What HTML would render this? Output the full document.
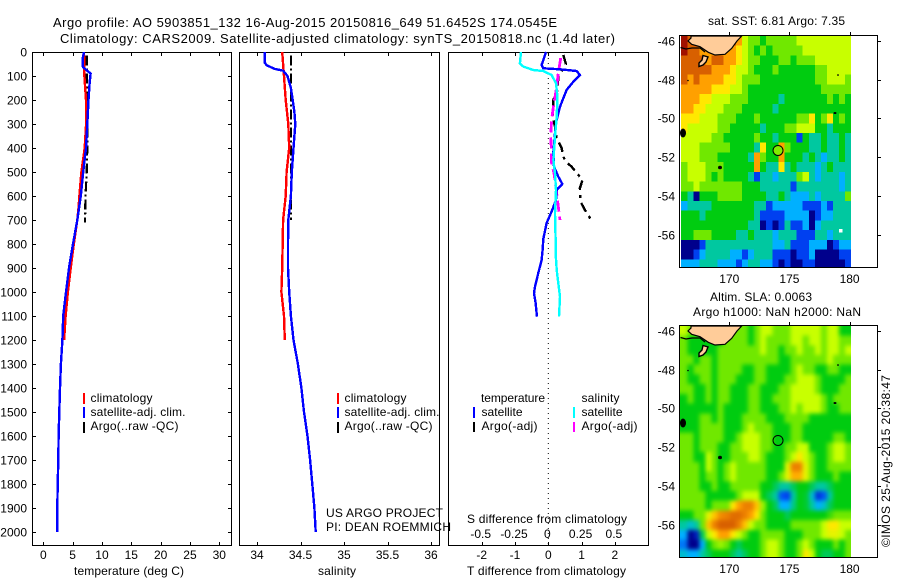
<!DOCTYPE html>
<html>
<head>
<meta charset="utf-8">
<title>Argo profile</title>
<style>
html,body{margin:0;padding:0;background:#fff;}
svg{display:block;font-family:"Liberation Sans",sans-serif;font-size:12px;fill:#000;}
</style>
</head>
<body>
<svg id="fig" xmlns="http://www.w3.org/2000/svg" width="900" height="580" viewBox="0 0 900 580">
<defs>
<clipPath id="clipMap1"><rect x="680" y="36" width="171" height="231"/></clipPath>
<clipPath id="clipMap2"><rect x="680" y="326" width="171" height="231"/></clipPath>
<filter id="smooth" x="-5%" y="-5%" width="110%" height="110%" color-interpolation-filters="sRGB">
<feGaussianBlur stdDeviation="2"/>
<feComponentTransfer><feFuncA type="linear" slope="60"/></feComponentTransfer>
</filter>
</defs>
<rect x="0" y="0" width="900" height="580" fill="#fff"/>
<text x="53" y="27" font-size="13" textLength="504" lengthAdjust="spacing">Argo profile: AO 5903851_132 16-Aug-2015 20150816_649 51.6452S 174.0545E</text>
<text x="60" y="43" font-size="13" textLength="555" lengthAdjust="spacing">Climatology: CARS2009. Satellite-adjusted climatology: synTS_20150818.nc (1.4d later)</text>

<g id="map1"></g>
<g id="map2"></g>
<g id="p1"></g>
<g id="p2"></g>
<g id="p3"></g>

<text x="74" y="575" textLength="110" lengthAdjust="spacing">temperature (deg C)</text>
<text x="318" y="575" textLength="38" lengthAdjust="spacing">salinity</text>
<text x="467" y="575" textLength="159" lengthAdjust="spacing">T difference from climatology</text>
<text x="467" y="523" textLength="160" lengthAdjust="spacing">S difference from climatology</text>

<g>
<rect x="83" y="393" width="2" height="11" fill="#f00"/>
<text x="90.5" y="402" textLength="62" lengthAdjust="spacing">climatology</text>
<rect x="83" y="407" width="2" height="11" fill="#00f"/>
<text x="90.5" y="416" textLength="95" lengthAdjust="spacing">satellite-adj. clim.</text>
<rect x="83" y="422" width="2" height="11" fill="#000"/>
<text x="90.5" y="430" textLength="88" lengthAdjust="spacing">Argo(..raw -QC)</text>
</g>
<g>
<rect x="337" y="393" width="2" height="11" fill="#f00"/>
<text x="344.5" y="402" textLength="62" lengthAdjust="spacing">climatology</text>
<rect x="337" y="407" width="2" height="11" fill="#00f"/>
<text x="344.5" y="416" textLength="95" lengthAdjust="spacing">satellite-adj. clim.</text>
<rect x="337" y="422" width="2" height="11" fill="#000"/>
<text x="344.5" y="430" textLength="88" lengthAdjust="spacing">Argo(..raw -QC)</text>
</g>
<text x="326" y="517" textLength="117" lengthAdjust="spacing">US ARGO PROJECT</text>
<text x="326" y="531" textLength="125" lengthAdjust="spacing">PI: DEAN ROEMMICH</text>
<g>
<text x="481" y="402" textLength="64" lengthAdjust="spacing">temperature</text>
<rect x="473" y="407" width="2" height="11" fill="#00f"/>
<text x="481.5" y="416" textLength="41" lengthAdjust="spacing">satellite</text>
<rect x="473" y="422" width="2" height="10" fill="#000"/>
<text x="481.5" y="430" textLength="56" lengthAdjust="spacing">Argo(-adj)</text>
<text x="581.5" y="402" textLength="38" lengthAdjust="spacing">salinity</text>
<rect x="573" y="407" width="2" height="11" fill="#0ff"/>
<text x="581.5" y="416" textLength="41" lengthAdjust="spacing">satellite</text>
<rect x="573" y="422" width="2" height="10" fill="#f0f"/>
<text x="581.5" y="430" textLength="56" lengthAdjust="spacing">Argo(-adj)</text>
</g>

<text x="708" y="25" textLength="137" lengthAdjust="spacing">sat. SST: 6.81  Argo: 7.35</text>
<text x="710" y="301" textLength="102" lengthAdjust="spacing">Altim. SLA: 0.0063</text>
<text x="693" y="316" textLength="168" lengthAdjust="spacing">Argo h1000: NaN h2000: NaN</text>
<text transform="translate(890,547) rotate(-90)" textLength="172" lengthAdjust="spacing">©IMOS 25-Aug-2015 20:38:47</text>
</svg>

<script>
// ---------- Axis ticks ----------
const depthTicks = [0,100,200,300,400,500,600,700,800,900,1000,1100,1200,1300,1400,1500,1600,1700,1800,1900,2000];
const tempTicks = [0,5,10,15,20,25,30];
const salTicks = [34,34.5,35,35.5,36];
const salTickLabels = ['34','34.5','35','35.5','36'];
const tDiffTicks = [-2,-1,0,1,2];
const tDiffLabels = ['-2','-1','0','1','2'];
const sDiffTicks = [-0.5,-0.25,0,0.25,0.5];
const sDiffLabels = ['-0.5','-0.25','0','0.25','0.5'];
const lonTicks = [170,175,180];
const latTicks = [46,48,50,52,54,56];

// ---------- Temperature profiles ----------
const climTempDepth = [0,100,200,300,400,500,600,650,700,800,900,1000,1100,1200];
const climTemp = [6.94,7.0,7.27,7.3,7.05,6.5,6.15,6.0,5.8,5.2,4.67,4.2,3.8,3.55];
const satTempDepth = [0,30,60,70,90,130,200,300,400,500,600,700,800,900,1000,1100,1200,1300,1400,1500,1600,1700,1800,1900,2000];
const satTemp = [6.94,6.7,6.7,7.1,8.07,7.9,7.7,7.5,7.27,6.8,6.4,5.8,5.06,4.38,3.87,3.4,3.25,3.0,2.85,2.73,2.6,2.56,2.45,2.39,2.38];
const argoTempDepth = [15,100,200,300,400,500,600,710];
const argoTemp = [7.4,7.42,7.42,7.5,7.5,7.4,7.2,7.1];

// ---------- Salinity profiles ----------
const climSalDepth = [0,100,200,300,400,500,600,700,900,1000,1100,1200];
const climSal = [34.29,34.31,34.33,34.36,34.37,34.34,34.33,34.30,34.29,34.28,34.31,34.32];
const satSalDepth = [0,45,55,70,78,100,150,200,250,300,400,500,600,700,800,900,1000,1100,1200,1300,1400,1500,1600,1700,1800,1900,2000];
const satSal = [34.09,34.09,34.11,34.2,34.3,34.35,34.39,34.41,34.43,34.44,34.42,34.40,34.39,34.36,34.356,34.356,34.37,34.39,34.42,34.47,34.51,34.54,34.58,34.61,34.636,34.66,34.675];
const argoSalDepth = [15,200,400,700];
const argoSal = [34.39,34.39,34.39,34.39];

// ---------- Differences from climatology ----------
const satTDiffDepth = [0,54,68,72,79,96,124,158,193,228,283,338,421,478,519,550,575,617,665,713,779,825,867,921,978,1005,1046,1103];
const satTDiff = [-0.07,-0.2,-0.15,0.35,0.85,0.95,0.75,0.55,0.45,0.35,0.25,0.2,0.15,0.17,0.3,0.42,0.25,0.23,0.1,-0.05,-0.15,-0.17,-0.2,-0.3,-0.4,-0.43,-0.38,-0.34];
const satSDiffDepth = [0,47,61,75,79,96,130,186,269,353,450,505,575,672,779,838,908,963,1019,1103];
const satSDiff = [-0.205,-0.213,-0.188,-0.113,-0.038,0.025,0.058,0.068,0.063,0.05,0.038,0.05,0.058,0.05,0.055,0.055,0.063,0.075,0.088,0.08];
const argoSDiffDepth = [25,88,145,228,283,353,421,463,505,588,645,700];
const argoSDiff = [0.093,0.075,0.063,0.038,0.025,0.018,0.025,0.025,0.043,0.063,0.075,0.088];
const argoTDiffDepth = [12,50,103,158,200,269,311,358,400,436,457,478,512,533,567,624,658,707];
const argoTDiff = [0.45,0.53,0.3,0.28,0.15,0.13,0.2,0.25,0.4,0.45,0.53,0.7,0.9,1.03,0.95,0.97,1.1,1.32];

// ---------- Map grids: colour-level values, one row per 0.5 deg latitude from 46S ----------
const mapLats = [46,46.5,47,47.5,48,48.5,49,49.5,50,50.5,51,51.5,52,52.5,53,53.5,54,54.5,55,55.5,56,56.5,57,57.5];
const sstRows = [
[10,9,9,9,9,9,9,9,9,8,6,5,5,4,5,5,5,5,5,6,6,6,6,6,6,6,6,6],
[10,9,9,8,8,8,8,8,8,7,6,5,4,5,4,5,5,5,5,5,6,6,6,6,6,6,6,6],
[9,9,9,9,8,9,9,8,8,7,6,5,5,4,4,4,5,5,4,5,5,5,6,6,6,6,6,6],
[9,9,9,9,9,8,8,8,7,6,6,5,4,4,4,5,4,4,4,4,4,4,5,5,6,6,6,6],
[9,8,9,8,8,8,8,7,7,6,5,5,5,4,4,4,4,4,4,4,4,4,5,5,6,6,6,5],
[8,8,8,8,8,7,7,7,6,6,5,4,4,4,4,4,4,4,4,4,4,4,4,5,5,5,5,5],
[8,8,8,7,7,6,6,6,5,5,5,4,4,4,4,4,3,4,4,4,4,4,4,4,5,4,5,4],
[8,8,7,7,6,6,6,5,5,5,4,4,4,4,4,3,4,4,4,4,4,4,4,4,4,4,4,4],
[7,7,7,6,6,6,5,5,5,4,4,4,5,4,4,4,4,4,4,5,5,7,4,5,7,4,5,4],
[7,6,6,6,6,6,5,5,4,4,4,4,4,3,4,4,4,5,5,6,6,6,4,4,3,4,4,4],
[6,6,6,6,6,5,5,4,4,4,4,4,5,4,4,3,4,4,4,1,4,3,3,4,3,3,4,3],
[6,6,6,5,5,5,5,5,4,4,4,4,3,7,4,4,8,5,4,4,4,3,3,4,3,3,4,3],
[6,6,6,5,5,5,4,4,4,4,4,3,8,5,4,4,8,4,4,4,3,4,3,2,3,3,4,3],
[5,6,6,6,5,5,5,4,4,4,4,4,8,4,3,3,7,3,4,3,3,3,2,3,4,3,3,3],
[5,6,6,6,5,4,5,4,4,4,4,3,1,3,3,2,3,3,3,5,6,3,2,3,3,3,2,3],
[5,5,6,5,5,5,5,5,5,5,4,4,4,3,3,3,3,3,1,3,3,3,3,3,3,3,2,3],
[4,3,0,4,4,4,5,5,5,5,4,4,4,4,3,3,4,3,2,2,2,3,2,3,3,3,3,5],
[2,3,3,3,3,4,4,4,4,4,4,4,3,3,1,2,2,2,2,2,1,1,1,2,1,3,3,3],
[4,4,4,3,4,4,4,4,4,4,4,4,3,1,1,1,1,2,2,2,2,0,1,2,2,3,3,3],
[4,4,4,4,4,4,4,4,4,4,4,3,3,0,1,0,1,3,1,1,2,0,2,3,3,3,3,3],
[4,4,5,5,5,4,4,4,4,3,3,4,3,3,3,2,3,3,3,1,1,1,3,3,2,3,3,3],
[0,0,0,1,3,3,3,3,3,3,3,3,3,3,3,2,2,3,1,1,1,2,2,2,0,1,2,2],
[0,0,1,2,3,3,3,3,2,2,1,2,3,3,3,1,1,1,0,1,1,2,0,0,0,0,1,1],
[2,2,2,3,3,3,2,2,2,1,2,3,3,2,2,1,0,1,0,0,1,1,0,0,0,0,0,1]
];
const slaRows = [
[6,5,5,5,5,5,5,5,5,5,5,4,5,6,6,5,5,5,6,6,6,6,6,5,6,6,4,4],
[5,4,4,4,4,4,4,5,5,5,5,4,5,6,5,5,5,5,6,6,5,6,6,5,6,6,5,5],
[5,4,4,4,4,4,5,5,5,5,5,5,5,6,5,5,4,5,5,6,5,5,6,5,6,6,5,6],
[5,5,4,5,5,4,5,5,5,5,5,5,5,5,5,5,4,4,5,5,5,5,5,5,6,5,5,5],
[5,4,5,5,5,4,5,5,5,5,4,4,5,5,4,4,4,4,5,6,5,5,4,4,5,5,4,4],
[5,4,4,5,5,4,5,5,5,4,4,4,5,5,4,4,4,5,5,6,6,6,5,4,4,4,4,5],
[5,5,4,4,5,4,5,5,4,4,4,5,5,4,4,4,5,5,6,6,6,6,5,4,4,4,5,5],
[4,5,4,4,5,4,5,5,4,4,4,5,5,4,4,5,5,5,6,6,6,6,6,5,4,5,5,5],
[4,4,4,4,4,4,5,4,4,4,4,5,5,4,4,4,5,5,6,5,6,6,6,5,4,4,5,5],
[4,4,4,5,5,4,5,4,4,4,5,5,5,5,4,4,4,5,5,5,5,4,4,4,4,4,4,4],
[4,4,4,5,5,5,5,4,4,4,5,6,5,5,5,4,4,4,5,5,4,4,4,4,4,4,4,4],
[5,5,4,5,5,5,5,4,4,5,6,6,6,5,5,4,4,4,5,5,4,4,4,4,4,5,5,4],
[5,5,4,5,5,5,4,4,5,5,6,6,6,5,5,4,4,5,5,6,6,4,4,4,5,6,6,5],
[5,5,4,4,6,5,4,4,5,5,5,6,6,5,4,4,4,5,6,7,6,5,4,4,5,6,6,5],
[5,5,5,4,6,5,4,5,6,5,5,5,5,5,4,4,4,6.5,8.5,8.5,6.5,5,4,4,5,5,5,5],
[5,5,5,4,5,5,4,5,6,5,5,5,5,5,4,4,5,6.5,7.8,7.8,6.5,5,4,4,4,5,4,4],
[5,5,5,4,4,5,4,4,5,5,5,5,5,4,4,3.5,3,3,3.5,4,4,3.5,3,3,3.5,4,4,4],
[5,5,5,5,4,4,4,4,4,5,6,6,6,4,3.5,3,1.2,1,3,4,3.8,2.5,0.8,1.2,3,4,4,4],
[5,5,5,5,4,5,5,5,7,8,8.5,8.5,7.5,5.5,4,3.5,2,2,3.2,4,3.8,3,2,2.5,3.5,4,4,4],
[4,4,5,5,6.5,7.5,8.3,8.5,8.8,8.8,8.5,8,7,5,4,4,4,3.5,4,4,4,4,4,4,4.5,5,5,5],
[3,2.5,3,5,7.5,8.5,9,9,9,8.5,7.5,6,5,5,4,4,4,4,5,5,5,5,5,6,7,7,6,6],
[2,0,0.5,3.5,6,7,8,8,7,6,5,4,4,5,5,5,5,4,4,4,5,5,5,6,6.5,6.5,6,5],
[1.5,0,0,2,4,5,5.5,5,4,3.5,4,4,4,5,6,6,5,4,4,5,6,5,4,4,4,5,4,5],
[2.5,2,2,3,3.5,4,4,4,3.5,3,3.5,4,4,5,6,6,5,4,4,5,7,6,4,3.5,3.5,4,4,5]
];
const profileLon = 174.05;
const profileLat = 51.65;
const colourStops = ['#00008c','#0040f0','#00b0ff','#00c8a0','#00cc10','#70e800','#c8ff00','#ffe800','#ffa000','#d86000','#a01000'];

// ---------- Helpers ----------
const NS = 'http://www.w3.org/2000/svg';
function mk(tag, parent, props) {
  const el = document.createElementNS(NS, tag);
  for (const k in props) el.setAttribute(k, props[k]);
  parent.appendChild(el);
  return el;
}
const yDepth = d => 52 + d * 0.24;
const xTemp = t => 43.3 + t * 5.867;
const xSal = s => 257 + (s - 34) * 87;
const xTDiff = t => 548.3 + t * 33.3;
const xSDiff = s => 548.3 + s * 133.2;
const xLon = l => 729.3 + (l - 170) * 12.03;
const yLat = (l, base) => base + (l - 46) * 19.43;

function hexRgb(h) { return [1,3,5].map(i => parseInt(h.substr(i,2),16)); }
function colourOf(v) {
  const c = Math.max(0, Math.min(colourStops.length - 1.001, v));
  const i = Math.floor(c), f = c - i;
  const a = hexRgb(colourStops[i]), b = hexRgb(colourStops[i+1]);
  return 'rgb(' + a.map((q, n) => Math.round(q + (b[n]-q)*f)).join(',') + ')';
}

function drawFrame(parent, x0, x1, y0, y1) {
  const r = mk('rect', parent, {x:x0+0.5, y:y0+0.5, width:x1-x0, height:y1-y0, fill:'none', stroke:'#000', 'stroke-width':1, 'shape-rendering':'crispEdges'});
  
  
}
function drawXTicks(parent, vals, labels, fx, y0, y1, labelY) {
  vals.forEach((v, i) => {
    const x = Math.round(fx(v)) + 0.5;
    const t1 = mk('line', parent, {x1:x, x2:x, y1:y0, y2:y0+4, stroke:'#000', 'shape-rendering':'crispEdges'});
    
    
    const t2 = mk('line', parent, {x1:x, x2:x, y1:y1-3, y2:y1+1, stroke:'#000', 'shape-rendering':'crispEdges'});
    
    
    const lb = mk('text', parent, {x:fx(v), y:labelY, 'text-anchor':'middle'});
    lb.textContent = labels[i];
    
    
  });
}
function drawLine(parent, depths, vals, fx, colour, width, dash, name) {
  const pts = depths.map((d, i) => fx(vals[i]).toFixed(1) + ',' + yDepth(d).toFixed(1)).join(' ');
  const p = mk('polyline', parent, {points:pts, fill:'none', stroke:colour, 'stroke-width':width, 'shape-rendering':'crispEdges'});
  if (dash) p.setAttribute('stroke-dasharray', dash);
  
  
}

// ---------- Temperature panel ----------
const p1 = document.getElementById('p1');
drawFrame(p1, 32, 231, 52, 545);
depthTicks.forEach(d => {
  const y = Math.round(yDepth(d)) + 0.5;
  if (d > 0) {
    const tl = mk('line', p1, {x1:32, x2:36, y1:y, y2:y, stroke:'#000', 'shape-rendering':'crispEdges'});
    
    
    const tr = mk('line', p1, {x1:228, x2:232, y1:y, y2:y, stroke:'#000', 'shape-rendering':'crispEdges'});
    
    
  }
  const lb = mk('text', p1, {x:27, y:y+4, 'text-anchor':'end'});
  lb.textContent = String(d);
  
  
});
drawXTicks(p1, tempTicks, tempTicks.map(String), xTemp, 52, 545, 559);
drawLine(p1, argoTempDepth, argoTemp, xTemp, '#000', 2.2, '10 3 2 3', 'argo-temperature-line');
drawLine(p1, climTempDepth, climTemp, xTemp, '#f00', 2.4, null, 'climatology-temperature-line');
drawLine(p1, satTempDepth, satTemp, xTemp, '#00f', 2.4, null, 'satellite-temperature-line');

// ---------- Salinity panel ----------
const p2 = document.getElementById('p2');
drawFrame(p2, 239, 439, 52, 545);
drawXTicks(p2, salTicks, salTickLabels, xSal, 52, 545, 559);
drawLine(p2, argoSalDepth, argoSal, xSal, '#000', 2.2, '10 3 2 3', 'argo-salinity-line');
drawLine(p2, climSalDepth, climSal, xSal, '#f00', 2.4, null, 'climatology-salinity-line');
drawLine(p2, satSalDepth, satSal, xSal, '#00f', 2.4, null, 'satellite-salinity-line');

// ---------- Difference panel ----------
const p3 = document.getElementById('p3');
drawFrame(p3, 448, 648, 52, 545);
const zero = mk('line', p3, {x1:xTDiff(0), x2:xTDiff(0), y1:53, y2:545, stroke:'#000', 'stroke-width':1, 'stroke-dasharray':'1 4'});


drawXTicks(p3, tDiffTicks, tDiffLabels, xTDiff, 52, 545, 559);
sDiffTicks.forEach((v, i) => {
  const lb = mk('text', p3, {x:xSDiff(v)-1, y:538, 'text-anchor':'middle'});
  lb.textContent = sDiffLabels[i];
  
  
});
drawLine(p3, argoTDiffDepth, argoTDiff, xTDiff, '#000', 2.4, '10 5 3 5', 'argo-t-difference-line');
drawLine(p3, argoSDiffDepth, argoSDiff, xSDiff, '#f0f', 2.8, '11 5', 'argo-s-difference-line');
drawLine(p3, satTDiffDepth, satTDiff, xTDiff, '#00f', 2.4, null, 'satellite-t-difference-line');
drawLine(p3, satSDiffDepth, satSDiff, xSDiff, '#0ff', 2.4, null, 'satellite-s-difference-line');

// ---------- Maps ----------
function drawMap(id, rows, base, clip, blurred, markerFill, name) {
  const g = document.getElementById(id);
  const clipG = mk('g', g, {'clip-path':'url(#' + clip + ')'});
  
  
  const cellsG = mk('g', clipG, blurred ? {filter:'url(#smooth)'} : {});
  
  
  rows.forEach((row, r) => {
    const y0 = yLat(mapLats[r] - 0.25, base), y1 = yLat(mapLats[r] + 0.25, base);
    row.forEach((v, c) => {
      const x0 = xLon(166 + c * 0.505), x1 = xLon(166 + (c + 1) * 0.505);
      const cell = mk('rect', cellsG, {x:x0.toFixed(2), y:y0.toFixed(2), width:(x1-x0+0.4).toFixed(2), height:(y1-y0+0.4).toFixed(2), fill:colourOf(v), 'shape-rendering':'crispEdges'});
      
      
    });
  });
  const dy = base - 40.7;
  const land = mk('polygon', g, {points:[[691,36],[741.7,36],[737,41],[731.7,48.3],[725,54.3],[715,55],[708.3,52.3],[700,46.7],[691.7,44.3],[688,41],[691,38]].map(p => p[0] + ',' + (p[1]+dy)).join(' '), fill:'#ffcc99', stroke:'#000', 'stroke-width':1.2});
  
  
  const coast = mk('polyline', g, {points:[[680.5,47.5],[686,49],[692,48],[700,48],[705,52]].map(p => p[0] + ',' + (p[1]+dy)).join(' '), fill:'none', stroke:'#000', 'stroke-width':1.2});
  
  
  const isle = mk('polygon', g, {points:[[703,55.5],[708,57],[706,62],[703,65],[699,66.5],[699,63],[702,60]].map(p => p[0] + ',' + (p[1]+dy)).join(' '), fill:'#ffcc99', stroke:'#000', 'stroke-width':1.4});
  
  
  [[683,133,3,4.5],[720,167.5,2,1.8],[688,80.5,0.8,0.8],[838,75,1,0.8],[835,113,1.5,1]].forEach(s => {
    const e = mk('ellipse', g, {cx:s[0], cy:s[1]+dy, rx:s[2], ry:s[3], fill:'#000'});
    
    
  });
  const y0 = Math.round(35 + dy), y1 = Math.round(267 + dy);
  drawFrame(g, 679, 877, y0, y1);
  lonTicks.forEach(l => {
    const x = Math.round(xLon(l)) + 0.5;
    const t = mk('line', g, {x1:x, x2:x, y1:y0-3, y2:y0, stroke:'#000', 'shape-rendering':'crispEdges'});
    
    
    const lb = mk('text', g, {x:xLon(l), y:y1+16, 'text-anchor':'middle'});
    lb.textContent = String(l);
    
    
  });
  latTicks.forEach(l => {
    const y = Math.round(yLat(l, base)) + 0.5;
    const t = mk('line', g, {x1:878, x2:881, y1:y, y2:y, stroke:'#000', 'shape-rendering':'crispEdges'});
    
    
    const lb = mk('text', g, {x:675, y:y+4, 'text-anchor':'end'});
    lb.textContent = '-' + l;
    
    
  });
  const m = mk('circle', g, {cx:xLon(profileLon), cy:yLat(profileLat, base), r:5, fill:markerFill, stroke:'#000', 'stroke-width':1});
  
  
}
drawMap('map1', sstRows, 40.7, 'clipMap1', false, colourOf(5.2), 'sst-map');
drawMap('map2', slaRows, 330.7, 'clipMap2', true, 'none', 'sla-map');
const gap = mk('rect', document.getElementById('map1'), {x:839, y:229, width:3.5, height:3.5, fill:'#fff'});


</script>
</body>
</html>
